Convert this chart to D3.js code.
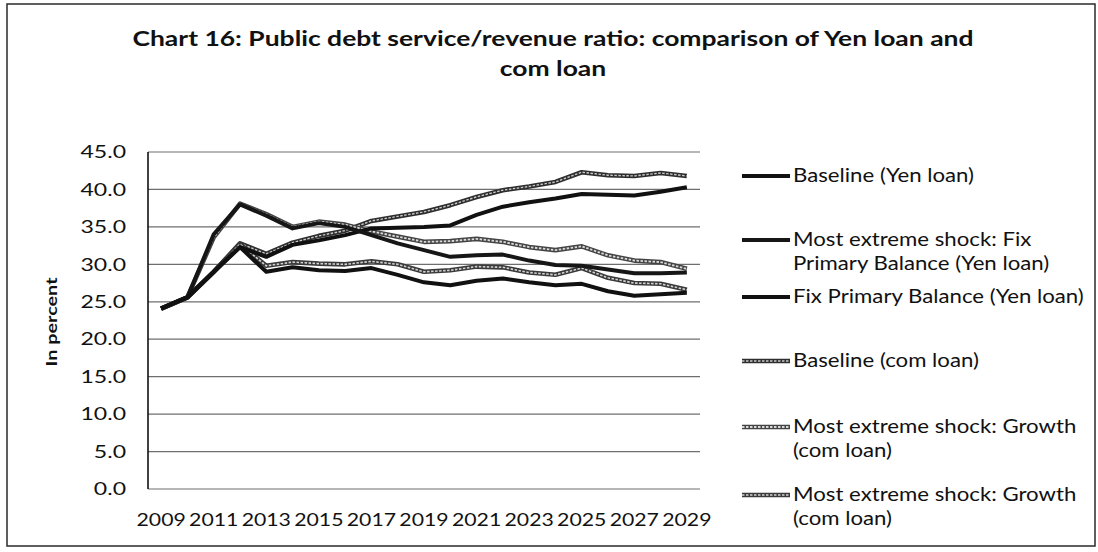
<!DOCTYPE html>
<html>
<head>
<meta charset="utf-8">
<script src="https://cdn.jsdelivr.net/npm/d3@7"></script>
<style>
  html, body { margin: 0; padding: 0; background: #fff; }
  svg { display: block; font-family: Lato, "Open Sans", sans-serif; }
</style>
</head>
<body>
<svg id="chart" width="1098" height="552"></svg>
<script>
// Categories: projection years
const years = ["2009","2010","2011","2012","2013","2014","2015","2016","2017","2018","2019",
               "2020","2021","2022","2023","2024","2025","2026","2027","2028","2029"];
const xTickLabels = ["2009","2011","2013","2015","2017","2019","2021","2023","2025","2027","2029"];
const yTicks = [0, 5, 10, 15, 20, 25, 30, 35, 40, 45];

// Public debt service / revenue ratio, in percent
const baselineYen    = [24.1, 25.6, 29.0, 32.3, 31.0, 32.6, 33.2, 33.9, 34.8, 34.9, 35.0, 35.2, 36.6, 37.7, 38.3, 38.8, 39.4, 39.3, 39.2, 39.7, 40.3];
const shockFixYen    = [24.1, 25.6, 34.0, 38.0, 36.5, 34.8, 35.5, 35.0, 33.9, 32.8, 31.9, 31.0, 31.2, 31.3, 30.5, 29.9, 29.8, 29.3, 28.8, 28.8, 28.9];
const fixPrimaryYen  = [24.1, 25.6, 29.0, 32.3, 29.0, 29.6, 29.2, 29.1, 29.5, 28.6, 27.6, 27.2, 27.8, 28.1, 27.6, 27.2, 27.4, 26.4, 25.8, 26.0, 26.2];
const baselineCom    = [24.1, 25.6, 29.0, 32.8, 31.4, 32.9, 33.8, 34.5, 35.8, 36.4, 37.0, 37.9, 39.0, 39.9, 40.4, 41.0, 42.3, 41.9, 41.8, 42.2, 41.8];
const shockGrowthCom = [24.1, 25.6, 33.6, 38.1, 36.7, 35.0, 35.7, 35.3, 34.4, 33.7, 33.0, 33.1, 33.4, 33.0, 32.3, 31.9, 32.4, 31.2, 30.5, 30.3, 29.4];
const shockGrowthCom2= [24.1, 25.6, 29.0, 32.7, 29.8, 30.3, 30.1, 30.0, 30.4, 30.0, 29.0, 29.2, 29.7, 29.6, 28.9, 28.6, 29.5, 28.2, 27.5, 27.4, 26.6];

const seriesNames = [
  "Baseline (Yen loan)",
  "Most extreme shock: Fix Primary Balance (Yen loan)",
  "Fix Primary Balance (Yen loan)",
  "Baseline (com loan)",
  "Most extreme shock: Growth (com loan)",
  "Most extreme shock: Growth (com loan)"
];
const seriesValues = [baselineYen, shockFixYen, fixPrimaryYen, baselineCom, shockGrowthCom, shockGrowthCom2];

// Drawing styles per series: solid black for Yen loan, stippled grey for com loan
const seriesStyle = [
  { base: "#111", width: 4 },
  { base: "#161616", width: 4 },
  { base: "#111", width: 4 },
  { base: "#2e2e2e", width: 4.6, stipple: "#c8c8c8", stippleWidth: 1.4 },
  { base: "#444", width: 4.6, stipple: "#dadada", stippleWidth: 1.8 },
  { base: "#3a3a3a", width: 4.6, stipple: "#d2d2d2", stippleWidth: 1.6 }
];

const svg = d3.select("#chart");
const plot = { left: 148, right: 700, top: 152, bottom: 489 };

const x = d3.scaleBand().domain(years).range([plot.left, plot.right]);
const cx = d => x(d) + x.bandwidth() / 2;
const y = d3.scaleLinear().domain([0, 45]).range([plot.bottom, plot.top]);

// widen glyphs horizontally by factor k
function stretch(sel, k) {
  sel.each(function () {
    const w = this.getComputedTextLength();
    this.setAttribute("textLength", (w * k).toFixed(1));
    this.setAttribute("lengthAdjust", "spacingAndGlyphs");
  });
}

// outer frame
svg.append("rect")
  .attr("x", 7).attr("y", 4).attr("width", 1088).attr("height", 542)
  .attr("fill", "none").attr("stroke", "#2a2a2a").attr("stroke-width", 1.5);

// title (two lines)
const titleLines = ["Chart 16: Public debt service/revenue ratio: comparison of Yen loan and", "com loan"];
const titleG = svg.append("g");
titleLines.forEach((s, i) => {
  titleG.append("text")
    .attr("x", 553).attr("y", 46 + i * 30).attr("text-anchor", "middle")
    .attr("font-weight", "bold").attr("font-size", 21).attr("fill", "#111")
    .text(s);
});

// horizontal gridlines
svg.append("g").selectAll("line").data(yTicks).join("line")
  .attr("x1", plot.left).attr("x2", plot.right)
  .attr("y1", d => y(d)).attr("y2", d => y(d))
  .attr("stroke", "#6e6e6e").attr("stroke-width", 1.2);

// y axis
const gy = svg.append("g")
  .attr("transform", `translate(${plot.left},0)`)
  .call(d3.axisLeft(y).tickValues(yTicks).tickFormat(d3.format(".1f")).tickSize(0).tickPadding(22));
gy.select(".domain").remove();
gy.attr("font-family", null).attr("font-size", 18);
gy.selectAll("text").attr("fill", "#111");
svg.append("line")
  .attr("x1", plot.left).attr("x2", plot.left)
  .attr("y1", plot.top).attr("y2", plot.bottom)
  .attr("stroke", "#111").attr("stroke-width", 1.6);

// x axis
const gx = svg.append("g")
  .attr("transform", `translate(0,${plot.bottom})`)
  .call(d3.axisBottom(x).tickValues(xTickLabels).tickSize(0).tickPadding(25));
gx.select(".domain").remove();
gx.attr("font-family", null).attr("font-size", 17);
gx.selectAll("text").attr("fill", "#111");

// y axis title
svg.append("text")
  .attr("transform", "translate(57,322) rotate(-90)")
  .attr("text-anchor", "middle")
  .attr("font-weight", "bold").attr("font-size", 16).attr("fill", "#111")
  .attr("class", "ytitle")
  .text("In percent");

// series lines
const line = d3.line().x((d, i) => cx(years[i])).y(d => y(d));
const gl = svg.append("g");
const order = [3, 4, 5, 0, 1, 2];
order.forEach(si => {
  const st = seriesStyle[si];
  gl.append("path").datum(seriesValues[si])
    .attr("d", line).attr("fill", "none")
    .attr("stroke", st.base).attr("stroke-width", st.width)
    .attr("stroke-linejoin", "round");
  if (st.stipple) {
    gl.append("path").datum(seriesValues[si])
      .attr("d", line).attr("fill", "none")
      .attr("stroke", st.stipple).attr("stroke-width", st.stippleWidth)
      .attr("stroke-dasharray", "2.5 1.5");
  }
});

// legend
const legendLines = [
  ["Baseline (Yen loan)"],
  ["Most extreme shock: Fix", "Primary Balance (Yen loan)"],
  ["Fix Primary Balance (Yen loan)"],
  ["Baseline (com loan)"],
  ["Most extreme shock: Growth", "(com loan)"],
  ["Most extreme shock: Growth", "(com loan)"]
];
const legendY = [176, 240, 297, 361, 427, 495];
const legendRowGap = 24;
const lg = svg.append("g");
seriesNames.forEach((name, i) => {
  const st = seriesStyle[i];
  const yy = legendY[i];
  lg.append("line").attr("x1", 742).attr("x2", 790).attr("y1", yy).attr("y2", yy)
    .attr("stroke", st.base).attr("stroke-width", st.width);
  if (st.stipple) {
    lg.append("line").attr("x1", 742).attr("x2", 790).attr("y1", yy).attr("y2", yy)
      .attr("stroke", st.stipple).attr("stroke-width", st.stippleWidth)
      .attr("stroke-dasharray", "2.5 1.5");
  }
  legendLines[i].forEach((s, j) => {
    lg.append("text").attr("x", 793).attr("y", yy + 6 + j * legendRowGap)
      .attr("font-size", 18.5).attr("fill", "#111").text(s);
  });
});

stretch(titleG.selectAll("text"), 1.26);
stretch(gy.selectAll("text"), 1.28);
stretch(gx.selectAll("text"), 1.25);
stretch(svg.selectAll("text.ytitle"), 1.24);
stretch(lg.selectAll("text"), 1.2);
</script>
</body>
</html>
